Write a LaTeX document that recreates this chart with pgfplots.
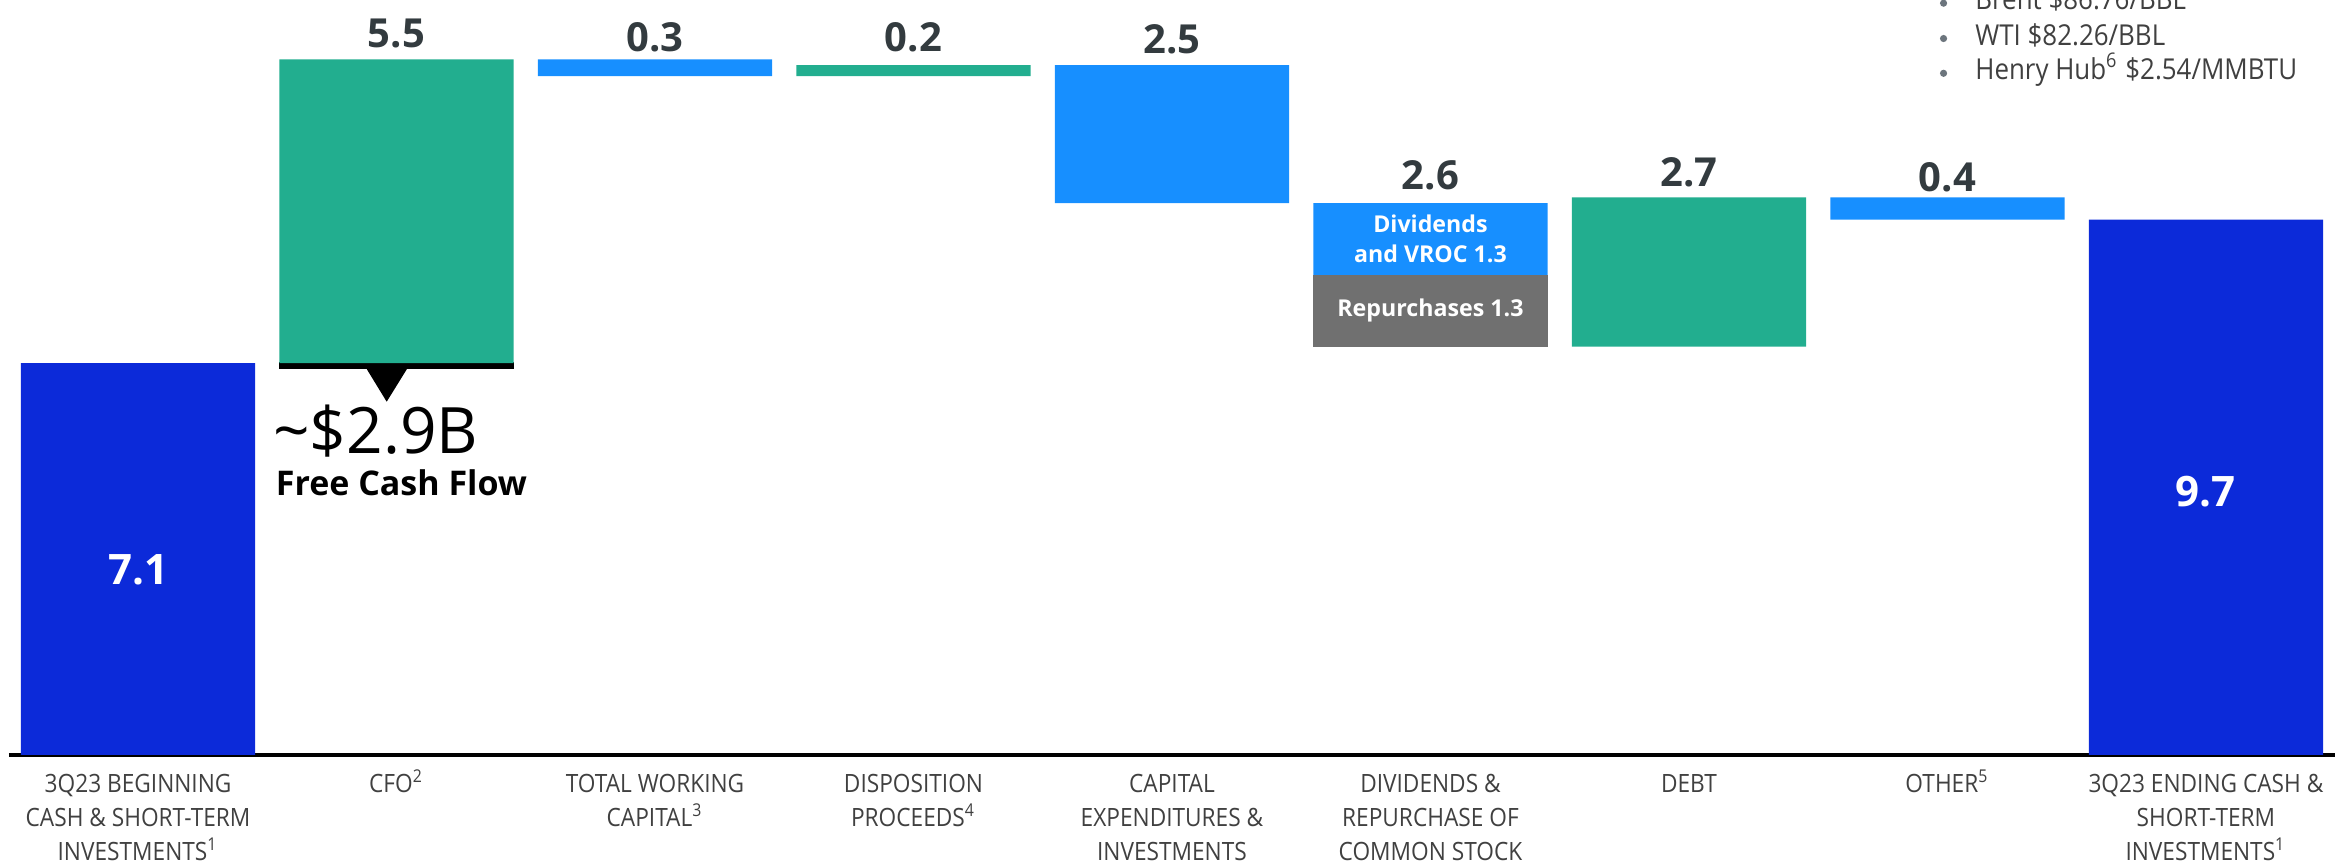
\documentclass[border=0pt]{standalone}
\usepackage{pgfplots}
\pgfplotsset{compat=1.18}
\usepackage{fontspec}
\setmainfont{Open Sans}
\newfontfamily\labfont[FakeStretch=0.9]{Open Sans}

\definecolor{navybar}{HTML}{0C2AD9}
\definecolor{greenbar}{HTML}{22AE8F}
\definecolor{bluebar}{HTML}{178FFF}
\definecolor{graybar}{HTML}{707070}
\definecolor{valtext}{HTML}{333B3F}
\definecolor{labtext}{HTML}{404040}
\definecolor{dotgray}{HTML}{6C757D}

\DeclareRobustCommand\fn[1]{\smash{\textsuperscript{#1}}}

\begin{document}
\begin{tikzpicture}
\path[use as bounding box] (0,0) rectangle (584.5pt,216.25pt);
\begin{axis}[
    at={(2.2pt,27.5pt)}, anchor=south west,
    scale only axis,
    width=581.6pt, height=188.75pt,
    xmin=-0.5, xmax=8.5, ymin=0, ymax=13.678,
    hide y axis,
    axis x line*=bottom,
    x axis line style={line width=0.9pt, black},
    xtick={0,...,8},
    major tick length=0pt,
    xticklabels={
        {3Q23 BEGINNING\\CASH \& SHORT-TERM\\INVESTMENTS\fn{1}},
        {CFO\fn{2}},
        {TOTAL WORKING\\CAPITAL\fn{3}},
        {DISPOSITION\\PROCEEDS\fn{4}},
        {CAPITAL\\EXPENDITURES \&\\INVESTMENTS},
        {DIVIDENDS \&\\REPURCHASE OF\\COMMON STOCK},
        {DEBT},
        {OTHER\fn{5}},
        {3Q23 ENDING CASH \&\\SHORT-TERM\\INVESTMENTS\fn{1}}},
    xticklabel style={align=center, anchor=north, inner sep=0pt, yshift=-4.6pt,
        font=\labfont\fontsize{6.3}{8.5}\selectfont, text=labtext},
    ybar stacked,
    bar width=0.906,
    clip=false,
    after end axis/.code={
        % labels inside the bars, drawn over them
        \node[text=white, font=\fontsize{10.5}{12}\selectfont\bfseries] at (axis cs:0,3.35) {7.1};
        \node[text=white, font=\fontsize{10.5}{12}\selectfont\bfseries] at (axis cs:8,4.77) {9.7};
        \node[text=white, align=center, font=\fontsize{5.8}{7.3}\selectfont\bfseries] at (axis cs:5,9.35) {Dividends\\and VROC 1.3};
        \node[text=white, font=\fontsize{5.8}{7.3}\selectfont\bfseries] at (axis cs:5,8.05) {Repurchases 1.3};
    },
]
% invisible base of each floating bar
\addplot[draw=none, fill=none] coordinates {
    (0,0) (1,7.1) (2,12.3) (3,12.3) (4,10.0) (5,7.4) (6,7.4) (7,9.7) (8,0)};
% beginning / ending cash
\addplot[draw=none, fill=navybar] coordinates {
    (0,7.1) (1,0) (2,0) (3,0) (4,0) (5,0) (6,0) (7,0) (8,9.7)};
% increases
\addplot[draw=none, fill=greenbar] coordinates {
    (0,0) (1,5.5) (2,0) (3,0.2) (4,0) (5,0) (6,2.7) (7,0) (8,0)};
% repurchases
\addplot[draw=none, fill=graybar] coordinates {
    (0,0) (1,0) (2,0) (3,0) (4,0) (5,1.3) (6,0) (7,0) (8,0)};
% decreases
\addplot[draw=none, fill=bluebar] coordinates {
    (0,0) (1,0) (2,0.3) (3,0) (4,2.5) (5,1.3) (6,0) (7,0.4) (8,0)};

% value labels
\node[anchor=base, inner sep=0pt, font=\fontsize{10}{12}\selectfont\bfseries, text=valtext] at (axis cs:1,12.82) {5.5};
\node[anchor=base, inner sep=0pt, font=\fontsize{10}{12}\selectfont\bfseries, text=valtext] at (axis cs:2,12.74) {0.3};
\node[anchor=base, inner sep=0pt, font=\fontsize{10}{12}\selectfont\bfseries, text=valtext] at (axis cs:3,12.74) {0.2};
\node[anchor=base, inner sep=0pt, font=\fontsize{10}{12}\selectfont\bfseries, text=valtext] at (axis cs:4,12.70) {2.5};
\node[anchor=base, inner sep=0pt, font=\fontsize{10}{12}\selectfont\bfseries, text=valtext] at (axis cs:5,10.25) {2.6};
\node[anchor=base, inner sep=0pt, font=\fontsize{10}{12}\selectfont\bfseries, text=valtext] at (axis cs:6,10.30) {2.7};
\node[anchor=base, inner sep=0pt, font=\fontsize{10}{12}\selectfont\bfseries, text=valtext] at (axis cs:7,10.20) {0.4};

% free cash flow marker
\fill[black] (axis cs:0.547,6.987) rectangle (axis cs:1.453,7.125);
\fill[black] (axis cs:0.885,6.99) -- (axis cs:1.040,6.99) -- (axis cs:0.962,6.40) -- cycle;
\node[anchor=base west, inner sep=0pt, font=\fontsize{16}{18}\selectfont] at (axis cs:0.52,5.47) {\textasciitilde\$2.9B};
\node[anchor=base west, inner sep=0pt, font=\fontsize{8.5}{10}\selectfont\bfseries] at (axis cs:0.53,4.71) {Free Cash Flow};

% price notes
\node[anchor=base west, inner sep=0pt, font=\labfont\fontsize{7.2}{9}\selectfont, text=labtext] at (axis cs:7.105,13.50) {Brent \$86.76/BBL};
\node[anchor=base west, inner sep=0pt, font=\labfont\fontsize{7.2}{9}\selectfont, text=labtext] at (axis cs:7.105,12.86) {WTI \$82.26/BBL};
\node[anchor=base west, inner sep=0pt, font=\labfont\fontsize{7.2}{9}\selectfont, text=labtext] at (axis cs:7.105,12.23) {Henry Hub\textsuperscript{6} \$2.54/MMBTU};
\fill[dotgray] (axis cs:6.985,13.62) circle (0.9pt);
\fill[dotgray] (axis cs:6.985,12.98) circle (0.9pt);
\fill[dotgray] (axis cs:6.985,12.35) circle (0.9pt);
\end{axis}
\end{tikzpicture}
\end{document}
